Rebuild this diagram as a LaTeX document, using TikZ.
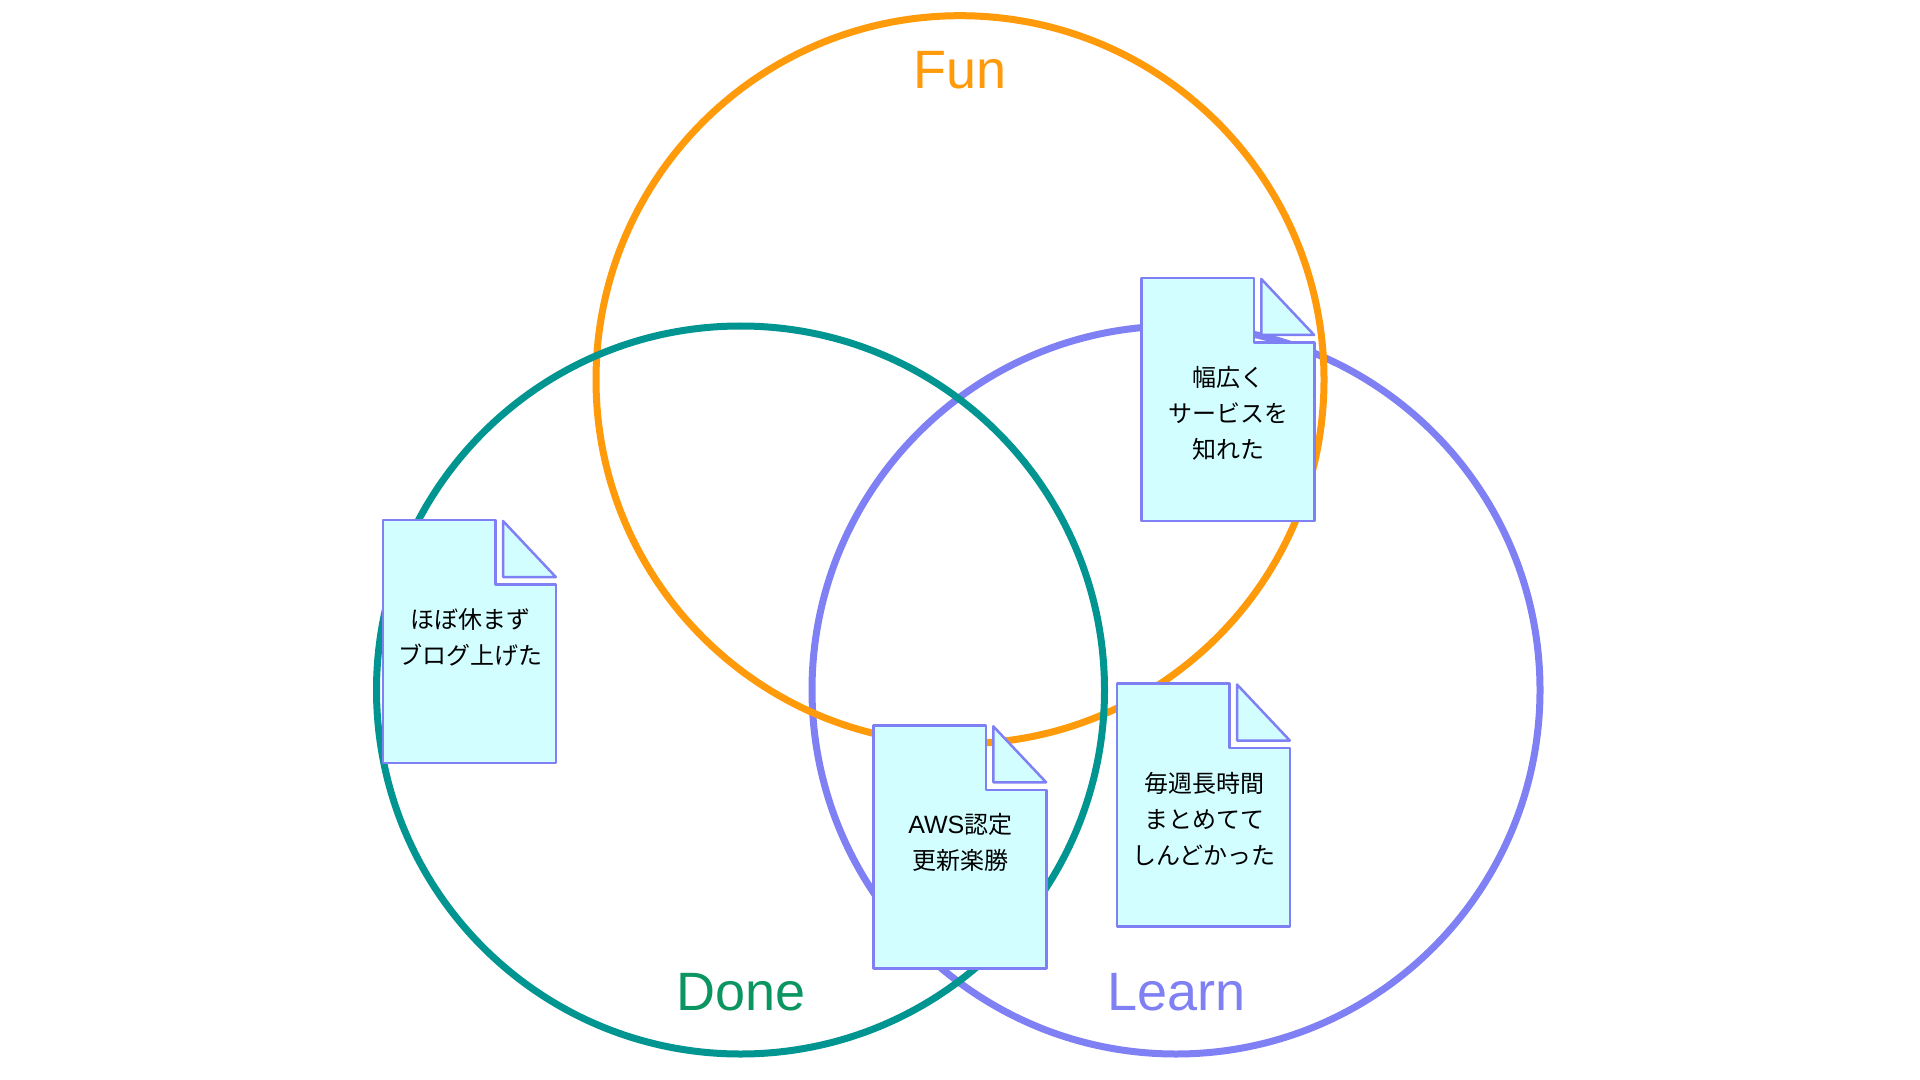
\documentclass[tikz,border=0pt]{standalone}
\usepackage{fontspec}
\setmainfont{Liberation Sans}
\newfontfamily\jpfont{Noto Sans CJK JP}
\definecolor{func}{HTML}{FF9A0A}
\definecolor{donec}{HTML}{009590}
\definecolor{donet}{HTML}{0B9560}
\definecolor{learnc}{HTML}{8080F5}
\definecolor{docfill}{HTML}{D2FEFF}
\tikzset{
  ring/.style={circle,draw,line width=3.5pt,minimum size=364pt,inner sep=0pt},
  biglabel/.style={font=\fontsize{27}{30}\selectfont,inner sep=0pt},
  notetext/.style={font=\jpfont\fontsize{12}{18}\selectfont,align=center,inner sep=0pt,anchor=north,text=black},
  notepaper/.style={draw=learnc,fill=docfill,line width=1.25pt,line join=round},
}
% #1 name, #2 left, #3 top, #4 text
\newcommand{\notedoc}[4]{%
  \path[notepaper] (#2,#3) -- ++(112.7,0) -- ++(0,64.7) -- ++(60.5,0) -- ++(0,178.3) -- ++(-173.2,0) -- cycle;
  \path[notepaper] (#2+120,#3+1) -- (#2+120,#3+57) -- (#2+172.8,#3+57) -- cycle;
  \node[notetext] (#1) at (#2+87,#3+88) {#4};%
}
\begin{document}
\begin{tikzpicture}[x=0.5pt,y=-0.5pt]
\useasboundingbox[fill=white] (0,0) rectangle (1920,1080);
\node[ring,draw=learnc] (learn) at (1176,690) {};
\node[ring,draw=func] (fun) at (960,379.7) {};
\node[ring,draw=donec] (done) at (740.5,690) {};
\node[biglabel,text=func] (funlabel) at (960,70) {Fun};
\node[biglabel,text=donet] (donelabel) at (741.5,992) {Done};
\node[biglabel,text=learnc] (learnlabel) at (1176.5,992) {Learn};
\notedoc{noteA}{383}{520}{ほぼ休まず\\ブログ上げた}
\notedoc{noteB}{1117}{683.5}{毎週長時間\\まとめてて\\しんどかった}
\notedoc{noteC}{873.3}{725.3}{{\rmfamily\fontsize{12.5}{18}\selectfont AWS}認定\\更新楽勝}
\notedoc{noteD}{1141.3}{278}{幅広く\\サービスを\\知れた}
\end{tikzpicture}
\end{document}
